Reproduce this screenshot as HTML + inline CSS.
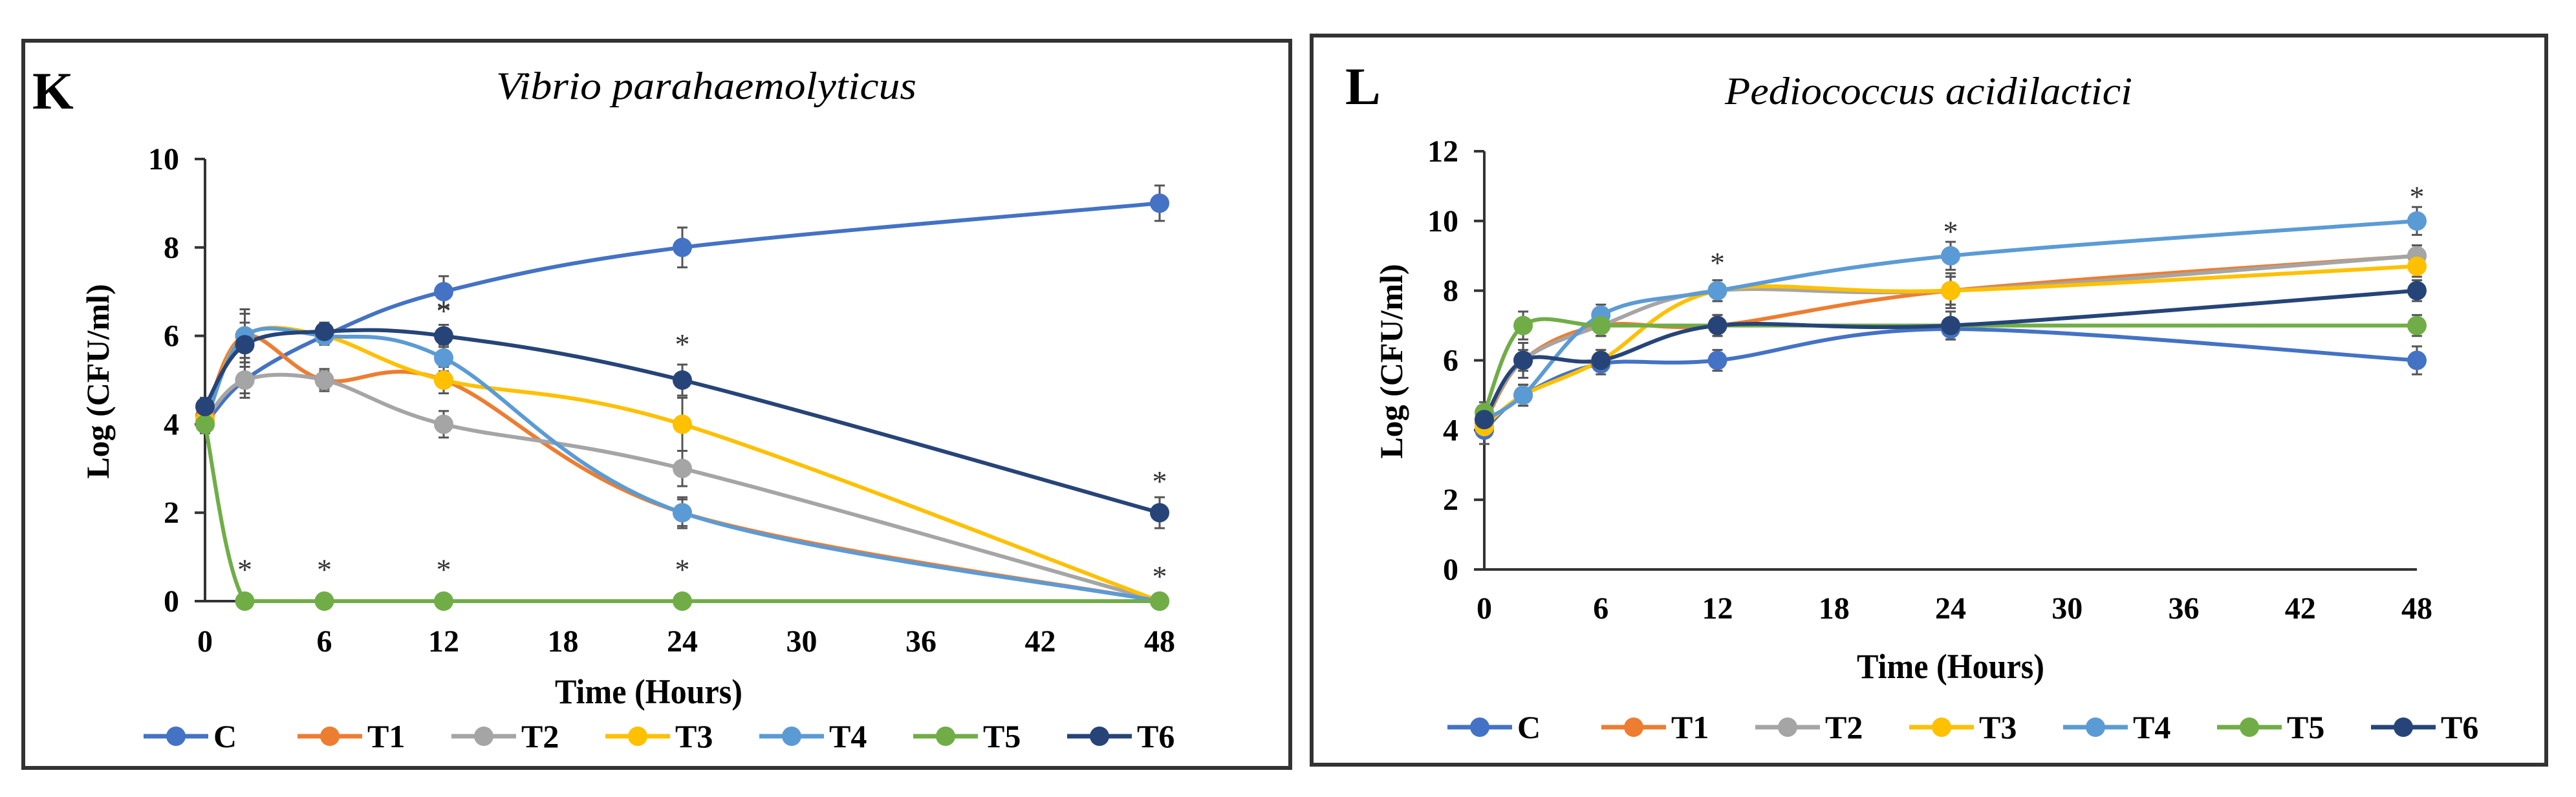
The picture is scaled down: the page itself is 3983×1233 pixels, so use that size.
<!DOCTYPE html>
<html><head><meta charset="utf-8"><style>
html,body{margin:0;padding:0;background:#fff;}
svg{display:block;}
text{font-family:"Liberation Serif",serif;}
</style></head>
<body>
<svg id="fig" width="3983" height="1233" viewBox="0 0 3983 1233" xmlns="http://www.w3.org/2000/svg"></svg>
<script>
// ---- data ----
const hours = [0, 2, 6, 12, 24, 48];
const xTicks = [0, 6, 12, 18, 24, 30, 36, 42, 48];
const seriesNames = ["C", "T1", "T2", "T3", "T4", "T5", "T6"];
const seriesColors = ["#4472C4", "#ED7D31", "#A5A5A5", "#FFC000", "#5B9BD5", "#70AD47", "#264478"];

// Panel K: Vibrio parahaemolyticus
const yTicksK = [0, 2, 4, 6, 8, 10];
const kC  = [4.0, 5.0, 6.0, 7.0, 8.0, 9.0];
const kT1 = [4.2, 6.0, 5.0, 5.0, 2.0, 0.0];
const kT2 = [4.1, 5.0, 5.0, 4.0, 3.0, 0.0];
const kT3 = [4.1, 6.0, 6.0, 5.0, 4.0, 0.0];
const kT4 = [4.0, 6.0, 6.0, 5.5, 2.0, 0.0];
const kT5 = [4.0, 0.0, 0.0, 0.0, 0.0, 0.0];
const kT6 = [4.4, 5.8, 6.1, 6.0, 5.0, 2.0];
const kErr = [
  [0.2, 0.3, 0.2, 0.35, 0.45, 0.4],
  [0.2, 0.6, 0.2, 0.3, 0.3, 0.05],
  [0.2, 0.4, 0.25, 0.3, 0.4, 0.05],
  [0.2, 0.3, 0.2, 0.3, 0.6, 0.05],
  [0.2, 0.5, 0.2, 0.3, 0.35, 0.05],
  [0.1, 0.05, 0.05, 0.05, 0.05, 0.05],
  [0.2, 0.3, 0.2, 0.25, 0.35, 0.35]
];
const kStarHours = [2, 6, 12, 24, 12, 24, 48, 48];
const kStarValues = [0.75, 0.75, 0.75, 0.75, 6.6, 5.85, 2.75, 0.6];

// Panel L: Pediococcus acidilactici
const yTicksL = [0, 2, 4, 6, 8, 10, 12];
const lC  = [4.0, 5.0, 5.9, 6.0, 6.9, 6.0];
const lT1 = [4.2, 6.0, 7.0, 7.0, 8.0, 9.0];
const lT2 = [4.3, 6.0, 7.0, 8.0, 8.0, 9.0];
const lT3 = [4.1, 5.0, 6.0, 8.0, 8.0, 8.7];
const lT4 = [4.3, 5.0, 7.3, 8.0, 9.0, 10.0];
const lT5 = [4.5, 7.0, 7.0, 7.0, 7.0, 7.0];
const lT6 = [4.3, 6.0, 6.0, 7.0, 7.0, 8.0];
const lErr = [
  [0.4, 0.3, 0.3, 0.3, 0.3, 0.4],
  [0.3, 0.5, 0.3, 0.3, 0.4, 0.3],
  [0.3, 0.5, 0.3, 0.3, 0.5, 0.3],
  [0.3, 0.3, 0.3, 0.3, 0.4, 0.3],
  [0.3, 0.3, 0.3, 0.3, 0.4, 0.4],
  [0.3, 0.4, 0.3, 0.3, 0.4, 0.3],
  [0.3, 0.3, 0.3, 0.3, 0.4, 0.3]
];
const lStarHours = [12, 24, 48];
const lStarValues = [8.85, 9.75, 10.75];

// ---- drawing ----
const NS = "http://www.w3.org/2000/svg";
const svg = document.getElementById("fig");
function mk(tag, attrs, parent, txt) {
  const e = document.createElementNS(NS, tag);
  for (const k in attrs) e.setAttribute(k, attrs[k]);
  if (txt !== undefined) e.textContent = txt;
  (parent || svg).appendChild(e);
  return e;
}
function smoothPath(pts, yFloor) {
  let d = "M" + pts[0][0] + "," + pts[0][1];
  for (let i = 0; i < pts.length - 1; i++) {
    const p0 = pts[Math.max(0, i - 1)], p1 = pts[i], p2 = pts[i + 1], p3 = pts[Math.min(pts.length - 1, i + 2)];
    const t = 1 / 6;
    const c1x = p1[0] + (p2[0] - p0[0]) * t, c1y = Math.min(yFloor, p1[1] + (p2[1] - p0[1]) * t);
    const c2x = p2[0] - (p3[0] - p1[0]) * t, c2y = Math.min(yFloor, p2[1] - (p3[1] - p1[1]) * t);
    d += " C" + c1x + "," + c1y + " " + c2x + "," + c2y + " " + p2[0] + "," + p2[1];
  }
  return d;
}

function drawPanel(cfg) {
  const g = mk("g", {});
  
  
  const box = mk("rect", {x: cfg.box[0], y: cfg.box[1], width: cfg.box[2], height: cfg.box[3], fill: "#fff", stroke: "#333", "stroke-width": 6}, g);
  
  
  const lab = mk("text", {x: cfg.letterX, y: cfg.letterY, "font-size": 82, "font-weight": "bold"}, g, cfg.letter);
  
  
  const ti = mk("text", {x: cfg.titleX, y: cfg.titleY, "font-size": 60, "font-style": "italic", "text-anchor": "middle", textLength: cfg.titleLen, lengthAdjust: "spacingAndGlyphs"}, g, cfg.title);
  
  

  const yMax = cfg.yTicks[cfg.yTicks.length - 1];
  const X = h => cfg.x0 + (cfg.x48 - cfg.x0) * h / 48;
  const Y = v => cfg.y0 - (cfg.y0 - cfg.yTop) * v / yMax;

  const ya = mk("line", {x1: X(0), y1: Y(0), x2: X(0), y2: Y(yMax), stroke: "#333", "stroke-width": 4}, g);
  
  
  const xa = mk("line", {x1: X(0) - 16, y1: Y(0), x2: X(48), y2: Y(0), stroke: "#333", "stroke-width": 4}, g);
  
  
  cfg.yTicks.forEach(v => {
    mk("line", {x1: X(0) - 16, y1: Y(v), x2: X(0), y2: Y(v), stroke: "#333", "stroke-width": 4}, g);
    const t = mk("text", {x: X(0) - 40, y: Y(v) + 16, "font-size": 48, "font-weight": "bold", "text-anchor": "end"}, g, String(v));
    
    
  });
  xTicks.forEach(h => {
    const t = mk("text", {x: X(h), y: cfg.xLabY, "font-size": 48, "font-weight": "bold", "text-anchor": "middle"}, g, String(h));
    
    
  });
  const xt = mk("text", {x: cfg.xTitleX, y: cfg.xTitleY, "font-size": 54, "font-weight": "bold", "text-anchor": "middle", textLength: 290, lengthAdjust: "spacingAndGlyphs"}, g, "Time (Hours)");
  
  
  const yt = mk("text", {x: 0, y: 0, "font-size": 50, "font-weight": "bold", "text-anchor": "middle", transform: "translate(" + cfg.yTitleX + "," + cfg.yTitleY + ") rotate(-90)"}, g, "Log (CFU/ml)");
  
  

  cfg.series.forEach((vals, si) => {
    vals.forEach((v, i) => {
      const e = cfg.err[si][i];
      const eb = mk("path", {d: "M" + (X(hours[i]) - 8) + "," + Y(v + e) + "h16M" + X(hours[i]) + "," + Y(v + e) + "V" + Y(Math.max(0, v - e)) + "M" + (X(hours[i]) - 8) + "," + Y(Math.max(0, v - e)) + "h16", stroke: "#555", "stroke-width": 3, fill: "none"}, g);
      
      
    });
  });
  cfg.series.forEach((vals, si) => {
    const pts = vals.map((v, i) => [X(hours[i]), Y(v)]);
    const ln = mk("path", {d: smoothPath(pts, Y(0)), stroke: seriesColors[si], "stroke-width": 6, fill: "none"}, g);
    
    
  });
  cfg.series.forEach((vals, si) => {
    vals.forEach((v, i) => {
      const c = mk("circle", {cx: X(hours[i]), cy: Y(v), r: 15, fill: seriesColors[si]}, g);
      
      
    });
  });
  cfg.starH.forEach((h, i) => {
    const s = mk("text", {x: X(h), y: Y(cfg.starV[i]) + 18, "font-size": 46, "text-anchor": "middle", fill: "#333"}, g, "*");
    
    
  });
  seriesNames.forEach((n, i) => {
    const lx = cfg.legX + i * cfg.legStep;
    const lg = mk("g", {}, g);
    
    
    mk("line", {x1: lx, y1: cfg.legY, x2: lx + 100, y2: cfg.legY, stroke: seriesColors[i], "stroke-width": 7}, lg);
    mk("circle", {cx: lx + 50, cy: cfg.legY, r: 15, fill: seriesColors[i]}, lg);
    mk("text", {x: lx + 108, y: cfg.legY + 17, "font-size": 50, "font-weight": "bold"}, lg, n);
  });
}

drawPanel({
  id: "k", letter: "K", title: "Vibrio parahaemolyticus",
  box: [36, 63, 1959, 1125], letterX: 50, letterY: 168,
  titleX: 1092, titleY: 153, titleLen: 650,
  x0: 317, x48: 1793, y0: 930, yTop: 246, yTicks: yTicksK,
  xLabY: 1008, xTitleX: 1003, xTitleY: 1088, yTitleX: 168, yTitleY: 590,
  series: [kC, kT1, kT2, kT3, kT4, kT5, kT6], err: kErr,
  starH: kStarHours, starV: kStarValues,
  legX: 222, legStep: 238, legY: 1139
});
drawPanel({
  id: "l", letter: "L", title: "Pediococcus acidilactici",
  box: [2028, 55, 1909, 1128], letterX: 2080, letterY: 161,
  titleX: 2982, titleY: 161, titleLen: 630,
  x0: 2295, x48: 3737, y0: 881, yTop: 234, yTicks: yTicksL,
  xLabY: 957, xTitleX: 3016, xTitleY: 1049, yTitleX: 2168, yTitleY: 559,
  series: [lC, lT1, lT2, lT3, lT4, lT5, lT6], err: lErr,
  starH: lStarHours, starV: lStarValues,
  legX: 2238, legStep: 238, legY: 1125
});
</script>
</body></html>
